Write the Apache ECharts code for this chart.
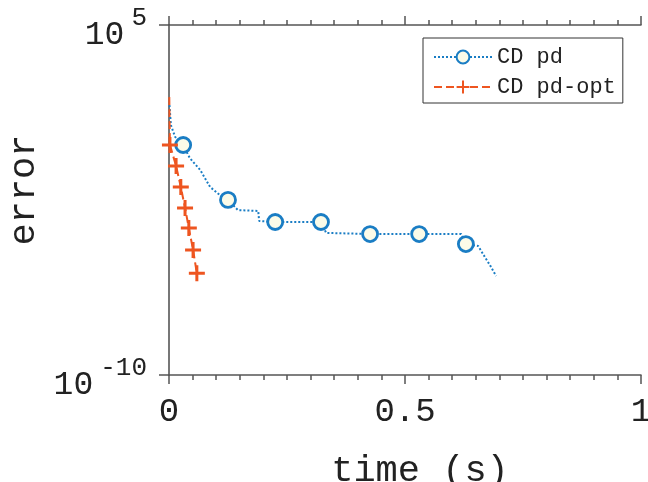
<!DOCTYPE html>
<html>
<head>
<meta charset="utf-8">
<script src="https://cdn.jsdelivr.net/npm/echarts@6/dist/echarts.min.js"></script>
<style>html,body{margin:0;padding:0;background:#fff;}#c{width:648px;height:482px;}</style>
</head>
<body>
<div id="c"></div>
<script>
// ---- data ----
const seriesNames = ['CD pd', 'CD pd-opt'];
// CD pd: dotted path (no markers)
const pdLineTime  = [0.001, 0.004, 0.013, 0.044, 0.066, 0.087, 0.108, 0.146, 0.189, 0.191, 0.333, 0.619, 0.655, 0.669, 0.680, 0.693];
const pdLineError = [37, 5.1, 1.6, 0.2, 0.062, 0.0115, 0.0051, 0.00117, 0.00107, 4.0e-4, 1.23e-4, 1.1e-4, 3.4e-5, 1.15e-5, 5.1e-6, 1.74e-6];
// CD pd: circle markers
const pdMarkTime  = [0.030, 0.125, 0.225, 0.322, 0.426, 0.530, 0.629];
const pdMarkError = [0.72, 0.0032, 3.6e-4, 3.6e-4, 1.1e-4, 1.1e-4, 4.1e-5];
// CD pd-opt: dashed path (no markers)
const optLineTime  = [0.0006, 0.0012];
const optLineError = [81, 8.5];
// CD pd-opt: plus markers
const optMarkTime  = [0.002, 0.015, 0.025, 0.034, 0.042, 0.051, 0.059];
const optMarkError = [0.72, 0.091, 0.0115, 1.45e-3, 2.0e-4, 2.3e-5, 2.3e-6];
// axes
const xTickLabels = [0, 0.5, 1];
const yTickValues = [1e-10, 1e5];

const BLUE = '#1A7DC4';
const ORANGE = '#EE5520';
const FONT = 'Liberation Mono';
const AXIS = '#555';

function merge(lt, le, mt, me, sym) {
  const pts = [];
  lt.forEach((t, i) => pts.push({ value: [t, le[i]], symbol: 'none' }));
  mt.forEach((t, i) => pts.push({ value: [t, me[i]], symbol: sym }));
  pts.sort((a, b) => a.value[0] - b.value[0]);
  return pts;
}
const PLUS = 'path://M0,5L10,5M5,0L5,10';

const chart = echarts.init(document.getElementById('c'), null, { renderer: 'canvas' });
const sup = v => {
  const e = Math.round(Math.log10(v));
  return '{b|10}{s|' + e + '}';
};
chart.setOption({
  animation: false,
  backgroundColor: '#fff',
  grid: { left: 169, top: 25, right: 7, bottom: 107, containLabel: false, outerBoundsMode: 'none' },
  legend: {
    orient: 'vertical', left: 423, top: 38,
    padding: [8, 7, 5, 10], itemGap: 8, itemWidth: 58, itemHeight: 16,
    backgroundColor: '#fff', borderColor: '#333', borderWidth: 1, borderRadius: 0,
    textStyle: { fontFamily: FONT, fontSize: 22, color: '#222', lineHeight: 22 },
    data: seriesNames
  },
  xAxis: [{
    type: 'value', position: 'bottom', min: 0, max: 1, interval: 0.5,
    name: 'time (s)', nameLocation: 'middle', nameGap: 78,
    nameTextStyle: { fontFamily: FONT, fontSize: 37, color: '#222', padding: [0, 0, 0, 30] },
    axisLine: { show: true, lineStyle: { color: AXIS, width: 1.5 } },
    axisTick: { show: true, inside: false, length: 9, lineStyle: { color: AXIS, width: 1.5 } },
    minorTick: { show: true, splitNumber: 10, length: 5, lineStyle: { color: AXIS, width: 1.5 } },
    axisLabel: { fontFamily: FONT, fontSize: 34, color: '#222', margin: 20,
      customValues: xTickLabels, formatter: v => (v === 0 ? '0' : v === 1 ? '1' : String(v)) },
    splitLine: { show: false }, minorSplitLine: { show: false }
  }, {
    type: 'value', position: 'top', min: 0, max: 1, interval: 0.5,
    axisLine: { show: true, lineStyle: { color: AXIS, width: 1.5 } },
    axisTick: { show: true, inside: false, length: 9, lineStyle: { color: AXIS, width: 1.5 } },
    minorTick: { show: true, splitNumber: 10, length: 5, lineStyle: { color: AXIS, width: 1.5 } },
    axisLabel: { show: false }, splitLine: { show: false }
  }],
  yAxis: [{
    type: 'log', logBase: 10, min: 1e-10, max: 1e5, position: 'left',
    name: 'error', nameLocation: 'middle', nameGap: 126, nameRotate: 90,
    nameTextStyle: { fontFamily: FONT, fontSize: 37, color: '#222', padding: [0, 0, 0, 20] },
    axisLine: { show: true, lineStyle: { color: AXIS, width: 1.5 } },
    axisTick: { show: true, inside: false, length: 10, customValues: yTickValues, lineStyle: { color: AXIS, width: 1.5 } },
    axisLabel: { customValues: yTickValues, margin: 22, padding: [20, 0, 0, 0], formatter: sup,
      rich: {
        b: { fontFamily: FONT, fontSize: 33, color: '#222' },
        s: { fontFamily: FONT, fontSize: 26, color: '#222', padding: [0, 0, 34, 7] }
      } },
    splitLine: { show: false }
  }, {
    type: 'log', logBase: 10, min: 1e-10, max: 1e5, position: 'right',
    axisLine: { show: true, lineStyle: { color: '#777', width: 2 } },
    axisTick: { show: false }, axisLabel: { show: false }, splitLine: { show: false }
  }],
  series: [{
    name: seriesNames[0], type: 'line', xAxisIndex: 0, yAxisIndex: 0,
    data: merge(pdLineTime, pdLineError, pdMarkTime, pdMarkError, 'circle'),
    symbol: 'circle', symbolSize: 15, showSymbol: true,
    lineStyle: { color: BLUE, width: 2, type: 'dotted' },
    itemStyle: { color: '#FBFBE8', borderColor: BLUE, borderWidth: 2.8 }
  }, {
    name: seriesNames[1], type: 'line', xAxisIndex: 0, yAxisIndex: 0,
    data: merge(optLineTime, optLineError, optMarkTime, optMarkError, PLUS),
    symbol: PLUS, symbolSize: 16, showSymbol: true,
    lineStyle: { color: ORANGE, width: 2, type: 'dashed' },
    itemStyle: { color: ORANGE, borderColor: ORANGE, borderWidth: 3 }
  }]
});
</script>
</body>
</html>
